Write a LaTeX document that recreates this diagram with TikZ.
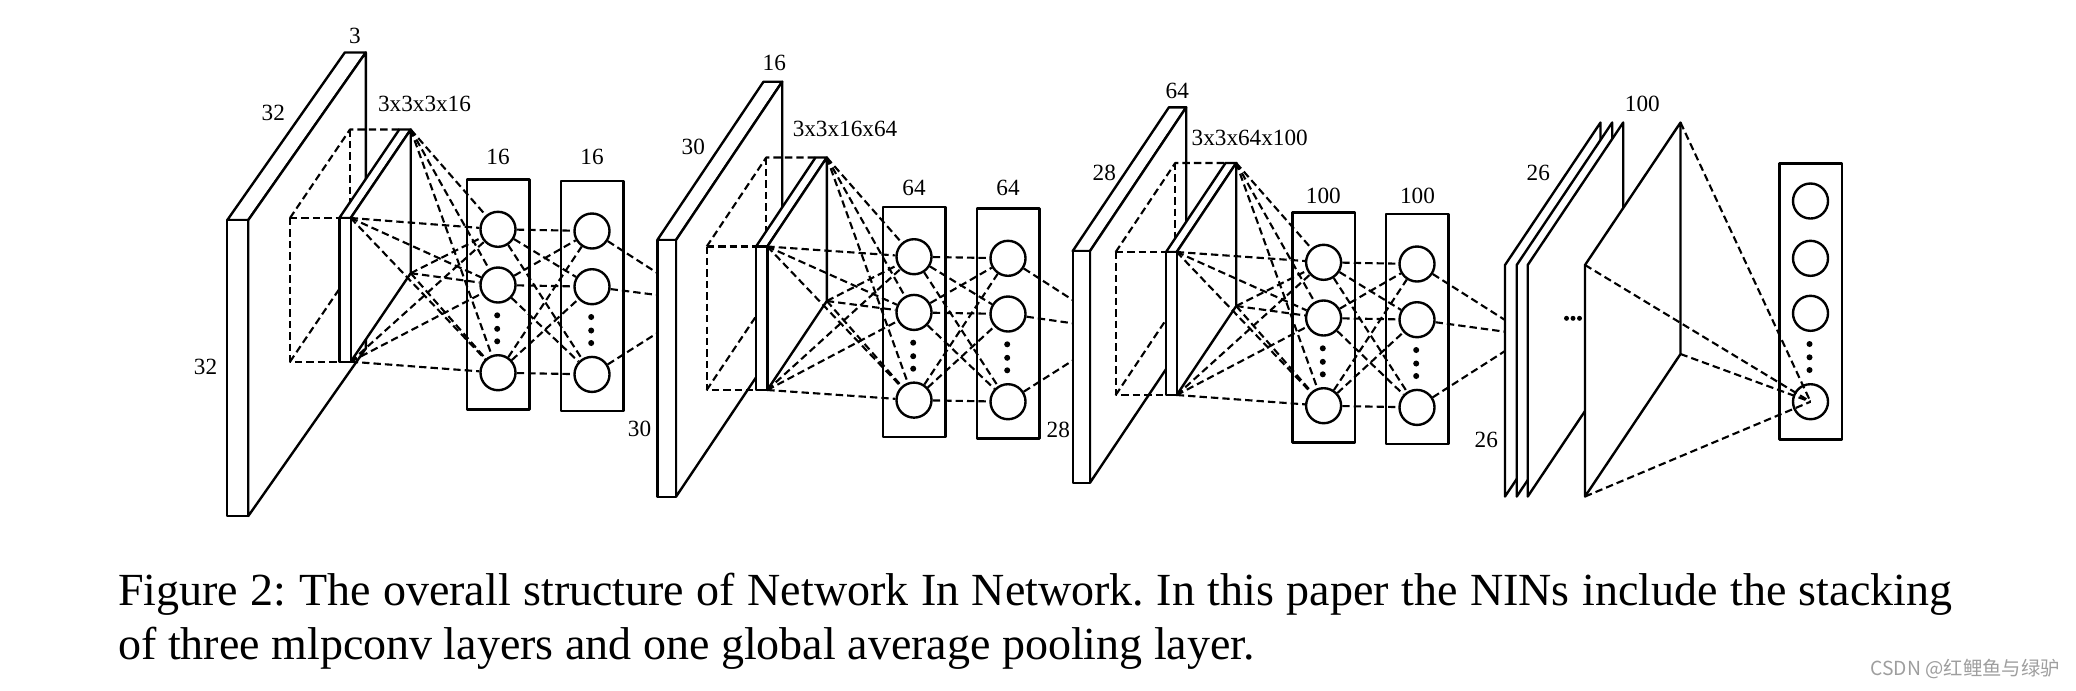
\documentclass[tikz,border=0pt]{standalone}
\usepackage{fontspec}
\setmainfont{Liberation Serif}
\newfontfamily\cjkfont{Noto Sans CJK SC}
\frenchspacing
% input volume: #1 name, #2 L, #3 R, #4 T, #5 B, #6 dx, #7 up
\newcommand\ninInput[7]{%
  \filldraw[fill=white] (#2,#4) -- (#3,#4) -- (#3+#6,#4-#7) -- (#2+#6,#4-#7) -- cycle;
  \filldraw[fill=white] (#3,#4) -- (#3+#6,#4-#7) -- (#3+#6,#5-#7) -- (#3,#5) -- cycle;
  \filldraw[fill=white] (#2,#4) rectangle (#3,#5);
  \coordinate (#1ftl) at (#2,#4);
  \coordinate (#1fbl) at (#2,#5);
}
% receptive field + filter slab: #1 name, #2 xl, #3 xs, #4 xr, #5 t, #6 b, #7 ex, #8 up
\newcommand\ninSlab[8]{%
  \draw[dsh] (#2,#5) -- (#3,#5);
  \draw[dsh] (#2,#5) -- (#2,#6) -- (#3,#6);
  \draw[dsh] (#2,#5) -- (#2+#7,#5-#8) -- (#3+#7,#5-#8);
  \draw[dsh] (#2+#7,#5-#8) -- (#2+#7,#6-#8) -- (#3+#7,#6-#8);
  \draw[dsh] (#2,#6) -- (#2+#7,#6-#8);
  \filldraw[fill=white] (#3,#5) -- (#3+#7,#5-#8) -- (#4+#7,#5-#8) -- (#4,#5) -- cycle;
  \filldraw[fill=white] (#4,#5) -- (#4+#7,#5-#8) -- (#4+#7,#6-#8) -- (#4,#6) -- cycle;
  \filldraw[fill=white] (#3,#5) rectangle (#4,#6);
  \coordinate (#1a) at (#4,#5);
  \coordinate (#1b) at (#4+#7,#5-#8);
  \coordinate (#1c) at (#4+#7,#6-#8);
  \coordinate (#1d) at (#4,#6);
}
% mlp layer: #1 name, #2 left, #3 top
\newcommand\ninMlp[3]{%
  \draw[layerbox] (#2,#3) rectangle (#2+62.6,#3+230);
  \node[neuron] (#11) at (#2+31.3,#3+50) {};
  \node[neuron] (#12) at (#2+31.3,#3+105.7) {};
  \node[neuron] (#13) at (#2+31.3,#3+193.4) {};
  \node[dotmark] (#1d1) at (#2+30.5,#3+136) {};
  \node[dotmark] (#1d2) at (#2+30.5,#3+149.5) {};
  \node[dotmark] (#1d3) at (#2+30.5,#3+162) {};
}
% feature sheet: #1 name, #2 front x
\newcommand\ninSheet[2]{%
  \filldraw[fill=white] (#2,265) -- (#2+95.5,122.5) -- (#2+95.5,354) -- (#2,496.5) -- cycle;
  \coordinate (#1a) at (#2,265);
  \coordinate (#1b) at (#2+95.5,122.5);
  \coordinate (#1c) at (#2+95.5,354);
  \coordinate (#1d) at (#2,496.5);
}
\begin{document}
\begin{tikzpicture}[x=0.01cm,y=-0.01cm,
  line width=0.68pt, line join=round,
  dsh/.style={dash pattern=on 2.1pt off 1.15pt, line width=0.6pt},
  neuron/.style={circle, draw, fill=white, minimum size=3.5mm, inner sep=0pt, line width=0.68pt},
  layerbox/.style={draw, line width=0.68pt},
  lbl/.style={font=\fontsize{6.6}{7}\selectfont, inner sep=0pt},
  dotmark/.style={circle, fill=black, inner sep=0pt, minimum size=0.6mm},
  capt/.style={font=\fontsize{13.08}{15.2}\selectfont, inner sep=0pt, anchor=base west}
]
\useasboundingbox (0,0) rectangle (2076,690);

% ---------- block 1 ----------
\ninInput{I1}{227.3}{248.3}{220}{516}{117.5}{167.5}
\ninSlab{S1}{290}{339.3}{350.7}{218}{361.7}{60}{88.5}
\ninMlp{A1}{466.7}{179.3}
\ninMlp{B1}{560.7}{181}
\foreach \c in {a,b,c,d} \foreach \k in {1,2,3} \draw[dsh] (S1\c) -- (A1\k);
\foreach \i in {1,2,3} \foreach \j in {1,2,3} \draw[dsh] (A1\i) -- (B1\j);
\coordinate (E2a) at (657.3,273);
\coordinate (E2b) at (657.3,295);
\coordinate (E2c) at (657.3,333);
\draw[dsh] (B11) -- (E2a);
\draw[dsh] (B12) -- (E2b);
\draw[dsh] (B13) -- (E2c);

% ---------- block 2 ----------
\ninInput{I2}{657.3}{676}{240}{496.7}{106.2}{158.3}
\ninSlab{S2}{706.7}{756}{767.3}{246.5}{390}{59.5}{89}
\ninMlp{A2}{882.7}{206.7}
\ninMlp{B2}{976.7}{208.3}
\foreach \c in {a,b,c,d} \foreach \k in {1,2,3} \draw[dsh] (S2\c) -- (A2\k);
\foreach \i in {1,2,3} \foreach \j in {1,2,3} \draw[dsh] (A2\i) -- (B2\j);
\coordinate (E3a) at (1072.7,300);
\coordinate (E3b) at (1072.7,323.3);
\coordinate (E3c) at (1072.7,360.5);
\draw[dsh] (B21) -- (E3a);
\draw[dsh] (B22) -- (E3b);
\draw[dsh] (B23) -- (E3c);

% ---------- block 3 ----------
\ninInput{I3}{1072.7}{1090}{251}{482.7}{96.2}{143.7}
\ninSlab{S3}{1115.7}{1166}{1176.7}{252}{395}{59.5}{89}
\ninMlp{A3}{1292.3}{212.3}
\ninMlp{B3}{1385.7}{214}
\foreach \c in {a,b,c,d} \foreach \k in {1,2,3} \draw[dsh] (S3\c) -- (A3\k);
\foreach \i in {1,2,3} \foreach \j in {1,2,3} \draw[dsh] (A3\i) -- (B3\j);
\coordinate (E4a) at (1505,320);
\coordinate (E4b) at (1505,331.7);
\coordinate (E4c) at (1505,351);
\draw[dsh] (B31) -- (E4a);
\draw[dsh] (B32) -- (E4b);
\draw[dsh] (B33) -- (E4c);

% ---------- feature maps + global average pooling ----------
\ninSheet{F1}{1505}
\ninSheet{F2}{1516.7}
\ninSheet{F3}{1527.7}
\ninSheet{F4}{1585}
\node[dotmark, minimum size=0.5mm] (sd1) at (1566.5,318.3) {};
\node[dotmark, minimum size=0.5mm] (sd2) at (1573,318.3) {};
\node[dotmark, minimum size=0.5mm] (sd3) at (1579.5,318.3) {};

\draw[layerbox] (1779.3,163.3) rectangle (1841.7,439.3);
\node[neuron] (G1) at (1810.5,201) {};
\node[neuron] (G2) at (1810.5,258.3) {};
\node[neuron] (G3) at (1810.5,313.3) {};
\node[neuron] (G4) at (1810.5,401.7) {};
\node[dotmark] (gd1) at (1809.5,344) {};
\node[dotmark] (gd2) at (1809.5,357.3) {};
\node[dotmark] (gd3) at (1809.5,370) {};
\foreach \c in {a,b,c,d} \draw[dsh] (F4\c) -- (G4.center);

% ---------- labels ----------
\node[lbl] (t1) at (355,36) {3};
\node[lbl] (t2) at (273.3,113.3) {32};
\node[lbl] (t3) at (205.5,366.7) {32};
\node[lbl] (t4) at (424.5,104) {3x3x3x16};
\node[lbl] (t5) at (498,156.7) {16};
\node[lbl] (t6) at (592,156.7) {16};

\node[lbl] (t7) at (774.3,63.3) {16};
\node[lbl] (t8) at (693.3,146.7) {30};
\node[lbl] (t9) at (639.5,429) {30};
\node[lbl] (t10) at (845,129) {3x3x16x64};
\node[lbl] (t11) at (914,188.3) {64};
\node[lbl] (t12) at (1008,188.3) {64};

\node[lbl] (t13) at (1177.3,90.7) {64};
\node[lbl] (t14) at (1104.3,173.3) {28};
\node[lbl] (t15) at (1058.3,430) {28};
\node[lbl] (t16) at (1249.7,138.3) {3x3x64x100};
\node[lbl] (t17) at (1323.3,196) {100};
\node[lbl] (t18) at (1417.5,196) {100};

\node[lbl] (t19) at (1538.3,172.7) {26};
\node[lbl] (t20) at (1486.3,439.5) {26};
\node[lbl] (t21) at (1642.3,103.7) {100};

% ---------- caption ----------
\node[capt] (cap1) at (117,605.5) {\makebox[521.5pt][s]{Figure 2: The overall structure of Network In Network. In this paper the NINs include the stacking}};
\node[capt] (cap2) at (117,659) {of three mlpconv layers and one global average pooling layer.};

\node[anchor=base east, inner sep=0pt, text=black!38, font=\cjkfont\fontsize{5.5}{6.5}\selectfont] (wm) at (2061,675) {CSDN @红鲤鱼与绿驴};
\end{tikzpicture}
\end{document}
